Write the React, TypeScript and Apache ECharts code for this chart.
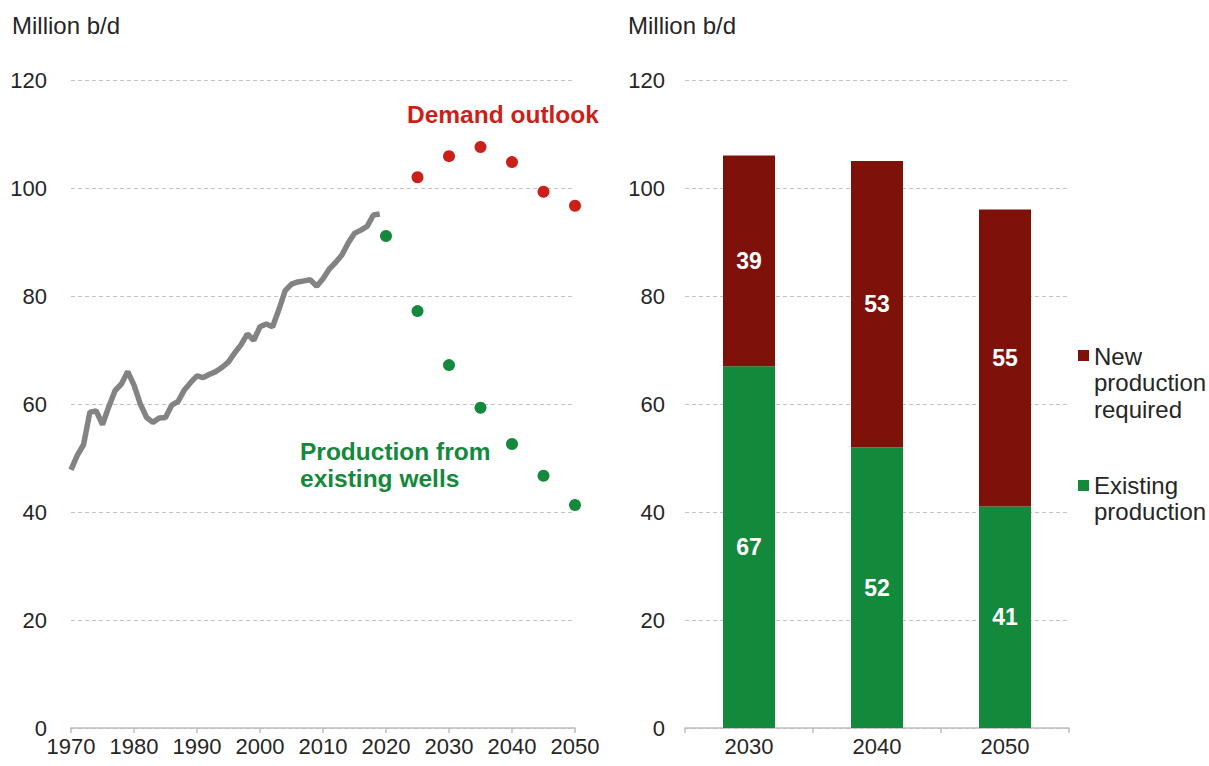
import React, { useEffect, useRef } from "react";
import * as echarts from "echarts";

const historyYears = [
  1970, 1971, 1972, 1973, 1974, 1975, 1976, 1977, 1978, 1979,
  1980, 1981, 1982, 1983, 1984, 1985, 1986, 1987, 1988, 1989,
  1990, 1991, 1992, 1993, 1994, 1995, 1996, 1997, 1998, 1999,
  2000, 2001, 2002, 2003, 2004, 2005, 2006, 2007, 2008, 2009,
  2010, 2011, 2012, 2013, 2014, 2015, 2016, 2017, 2018, 2019,
];
const historyDemand = [
  47.8, 50.5, 52.5, 58.5, 58.7, 56.2, 59.5, 62.5, 63.7, 66.0,
  63.5, 60.0, 57.5, 56.6, 57.4, 57.5, 59.8, 60.5, 62.6, 64.0,
  65.2, 64.9, 65.5, 66.0, 66.8, 67.8, 69.5, 71.0, 73.0, 71.8,
  74.3, 74.8, 74.3, 77.5, 81.0, 82.2, 82.6, 82.8, 83.0, 81.8,
  83.2, 85.0, 86.2, 87.6, 89.8, 91.6, 92.2, 92.9, 95.0, 95.2,
];
const outlookYears = [2025, 2030, 2035, 2040, 2045, 2050];
const demandOutlook = [102.0, 105.9, 107.6, 104.8, 99.3, 96.7];
const wellsYears = [2020, 2025, 2030, 2035, 2040, 2045, 2050];
const existingWells = [91.1, 77.2, 67.2, 59.3, 52.6, 46.7, 41.3];

const barCategories = ["2030", "2040", "2050"];
const existingProduction = [67, 52, 41];
const newProductionRequired = [39, 53, 55];

const unitLabel = "Million b/d";
const demandLabel = "Demand outlook";
const wellsLabel = "Production from\nexisting wells";
const newName = "New production required";
const existingName = "Existing production";
const newLegendText = "New\nproduction\nrequired";
const existingLegendText = "Existing\nproduction";

const FONT = "'Liberation Sans', Arial, sans-serif";
const TEXT = "#262626";
const GRID = "#c4c4c4";
const AXIS = "#bdbdbd";
const DARK_RED = "#7e110a";
const GREEN = "#138a3b";
const DOT_RED = "#cc1f1a";
const DOT_GREEN = "#14893c";

export default function App() {
  const ref = useRef<HTMLDivElement>(null);

  useEffect(() => {
    document.body.style.margin = "0";
    const chart = echarts.init(ref.current!, undefined, { renderer: "svg" });

    const yAxisBase = (gridIndex: number, margin: number) => ({
      type: "value",
      gridIndex,
      min: 0,
      max: 120,
      interval: 20,
      axisLine: { show: false },
      axisTick: { show: false },
      axisLabel: { fontSize: 22, color: TEXT, fontFamily: FONT, margin },
      splitLine: { show: true, lineStyle: { color: GRID, type: [4, 3], width: 1 } },
    });

    const option: any = {
      animation: false,
      backgroundColor: "#ffffff",
      textStyle: { fontFamily: FONT },
      grid: [
        { left: 71, top: 80, width: 504, height: 648 },
        { left: 685, top: 80, width: 384, height: 648 },
      ],
      xAxis: [
        {
          type: "value",
          gridIndex: 0,
          min: 1970,
          max: 2050,
          interval: 10,
          axisLine: { show: true, lineStyle: { color: AXIS, width: 1.5 } },
          axisTick: { show: true, length: 5, lineStyle: { color: AXIS, width: 1.5 } },
          axisLabel: {
            fontSize: 22,
            color: TEXT,
            fontFamily: FONT,
            margin: 7,
            formatter: (v: number) => String(v),
          },
          splitLine: { show: false },
        },
        {
          type: "category",
          gridIndex: 1,
          data: barCategories,
          axisLine: { show: true, lineStyle: { color: AXIS, width: 1.5 } },
          axisTick: { show: true, length: 5, lineStyle: { color: AXIS, width: 1.5 } },
          axisLabel: { fontSize: 22, color: TEXT, fontFamily: FONT, margin: 7 },
        },
      ],
      yAxis: [yAxisBase(0, 24), yAxisBase(1, 20)],
      series: [
        {
          type: "line",
          name: "History",
          xAxisIndex: 0,
          yAxisIndex: 0,
          data: historyYears.map((y, i) => [y, historyDemand[i]]),
          showSymbol: false,
          symbol: "none",
          lineStyle: { color: "#838383", width: 5.5 },
          z: 3,
        },
        {
          type: "scatter",
          name: demandLabel,
          xAxisIndex: 0,
          yAxisIndex: 0,
          data: outlookYears.map((y, i) => [y, demandOutlook[i]]),
          symbolSize: 12,
          itemStyle: { color: DOT_RED, opacity: 1 },
        },
        {
          type: "scatter",
          name: "Production from existing wells",
          xAxisIndex: 0,
          yAxisIndex: 0,
          data: wellsYears.map((y, i) => [y, existingWells[i]]),
          symbolSize: 12,
          itemStyle: { color: DOT_GREEN, opacity: 1 },
        },
        {
          type: "bar",
          name: existingName,
          xAxisIndex: 1,
          yAxisIndex: 1,
          stack: "total",
          barWidth: 52,
          data: existingProduction,
          itemStyle: { color: GREEN },
          label: {
            show: true,
            position: "inside",
            color: "#ffffff",
            fontWeight: "bold",
            fontSize: 23,
            fontFamily: FONT,
          },
        },
        {
          type: "bar",
          name: newName,
          xAxisIndex: 1,
          yAxisIndex: 1,
          stack: "total",
          barWidth: 52,
          data: newProductionRequired,
          itemStyle: { color: DARK_RED },
          label: {
            show: true,
            position: "inside",
            color: "#ffffff",
            fontWeight: "bold",
            fontSize: 23,
            fontFamily: FONT,
          },
        },
      ],
      graphic: [
        {
          type: "text",
          left: 12,
          top: 13,
          style: { text: unitLabel, fontSize: 24, fill: TEXT, fontFamily: FONT },
        },
        {
          type: "text",
          left: 628,
          top: 13,
          style: { text: unitLabel, fontSize: 24, fill: TEXT, fontFamily: FONT },
        },
        {
          type: "text",
          left: 407,
          top: 102,
          style: {
            text: demandLabel,
            fontSize: 24.5,
            fontWeight: "bold",
            fill: DOT_RED,
            fontFamily: FONT,
          },
        },
        {
          type: "text",
          left: 300,
          top: 438,
          style: {
            text: wellsLabel,
            fontSize: 24.5,
            lineHeight: 27,
            fontWeight: "bold",
            fill: DOT_GREEN,
            fontFamily: FONT,
          },
        },
        {
          type: "rect",
          left: 1078,
          top: 350,
          shape: { width: 11, height: 11 },
          style: { fill: DARK_RED },
        },
        {
          type: "text",
          left: 1094,
          top: 343,
          style: {
            text: newLegendText,
            fontSize: 24,
            lineHeight: 26.5,
            fill: TEXT,
            fontFamily: FONT,
          },
        },
        {
          type: "rect",
          left: 1078,
          top: 480,
          shape: { width: 11, height: 11 },
          style: { fill: GREEN },
        },
        {
          type: "text",
          left: 1094,
          top: 472,
          style: {
            text: existingLegendText,
            fontSize: 24,
            lineHeight: 26.5,
            fill: TEXT,
            fontFamily: FONT,
          },
        },
      ],
    };

    chart.setOption(option);
    return () => chart.dispose();
  }, []);

  return <div ref={ref} style={{ width: 1209, height: 766 }} />;
}
